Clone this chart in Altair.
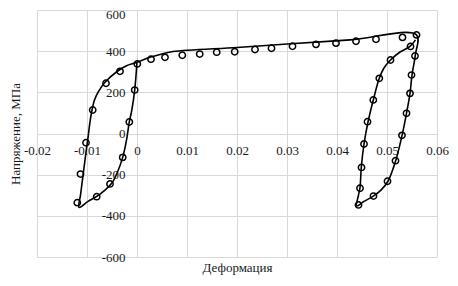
import altair as alt
import pandas as pd

# Model curve (line), in drawing order
model_x = [0.0000, -0.00046, -0.00104, -0.00154, -0.0021, -0.00286, -0.0039, -0.00506, -0.0066, -0.00774, -0.0098, -0.0116,
           -0.0113, -0.01074, -0.0102, -0.00986, -0.0094, -0.00906, -0.0085, -0.00774, -0.0064, -0.00406, -0.0022, -0.00006,
           0.0026, 0.0046, 0.0072, 0.020, 0.030, 0.0426, 0.0559,
           0.05566, 0.0550, 0.0546, 0.0539, 0.0530, 0.05174, 0.0502, 0.0488, 0.04726, 0.0454, 0.04394,
           0.0443, 0.0446, 0.04486, 0.0454, 0.0462, 0.04726, 0.04846, 0.0494, 0.0507, 0.0526, 0.0546, 0.0557]
model_y = [350, 211, 114, 56, -32, -116, -187, -242, -279, -301, -330, -359,
           -299, -193, -90, -32, 56, 106, 163, 202, 249, 300, 328, 345,
           370, 384, 398, 418, 435, 455, 479,
           381, 284, 195, 98, -10, -132, -232, -275, -304, -330, -352,
           -299, -263, -164, -51, 56, 163, 268, 318, 357, 396, 423, 455]

# Experimental points (circles)
exp_x = [0.00006, -0.00046, -0.00154, -0.00286, -0.0054, -0.00806, -0.01194, -0.0113, -0.0102, -0.00886, -0.0062, -0.0034,
         0.0028, 0.0056, 0.00906, 0.01254, 0.01594, 0.01954, 0.0236, 0.0269, 0.0311, 0.0358, 0.0398, 0.0438, 0.0478, 0.0531, 0.0559,
         0.0556, 0.0549, 0.0546, 0.0539, 0.0530, 0.0517, 0.0501, 0.0473, 0.0443,
         0.0446, 0.0449, 0.0454, 0.0461, 0.04726, 0.04846, 0.0507, 0.0547]
exp_y = [338, 211, 56, -116, -245, -307, -336, -197, -45, 114, 244, 302,
         361, 370, 380, 386, 395, 397, 408, 414, 424, 433, 439, 448, 458, 467, 479,
         377, 284, 195, 98, -9, -132, -232, -304, -347,
         -266, -165, -51, 57, 163, 268, 357, 423]

x_ticks = [-0.02, -0.01, 0, 0.01, 0.02, 0.03, 0.04, 0.05, 0.06]
y_ticks = [-600, -400, -200, 0, 200, 400, 600]

x_title = "Деформация"
y_title = "Напряжение, МПа"

model_df = pd.DataFrame({"x": model_x, "y": model_y, "i": list(range(len(model_x)))})
exp_df = pd.DataFrame({"x": exp_x, "y": exp_y})

FONT = "Liberation Serif"
TXT = "#1a1a1a"

x_enc = alt.X("x:Q",
              scale=alt.Scale(domain=[-0.02, 0.06], nice=False, zero=False),
              axis=alt.Axis(values=x_ticks, title=x_title, grid=True, ticks=False, domain=False,
                            labelPadding=-113, labelFlush=False,
                            labelFont=FONT, labelFontSize=13, labelColor=TXT,
                            titleFont=FONT, titleFontSize=13, titleColor=TXT, titleFontWeight="normal",
                            labelExpr="'' + round(datum.value*100)/100",
                            titleX=200, titleY=10, titleBaseline="middle"))
y_enc = alt.Y("y:Q",
              scale=alt.Scale(domain=[-600, 600], nice=False, zero=False),
              axis=alt.Axis(values=y_ticks, title=y_title, grid=True, ticks=False, domain=False,
                            labelPadding=-88, labelFlush=False, minExtent=0,
                            labelFont=FONT, labelFontSize=13, labelColor=TXT,
                            titleFont=FONT, titleFontSize=13, titleColor=TXT, titleFontWeight="normal",
                            labelOffset={"condition": {"test": "datum.value == 600", "value": 4}, "value": 0},
                            labelExpr="'' + datum.value",
                            titleX=-22, titleY=123.5, titleBaseline="middle"))

line = alt.Chart(model_df).mark_line(color="black", strokeWidth=1.6, interpolate="catmull-rom").encode(
    x=x_enc, y=y_enc, order="i:Q")

pts = alt.Chart(exp_df).mark_point(shape="circle", filled=False, color="black", size=40, strokeWidth=1.5, opacity=1).encode(
    x="x:Q", y="y:Q")

chart = alt.layer(line, pts).properties(
    width=400, height=247,
    autosize=alt.AutoSizeParams(type="none"),
    padding={"left": 29, "top": 2, "right": 12, "bottom": 21},
).configure_view(stroke=None).configure_axis(
    gridColor="#d9d9d9", gridWidth=1,
)

chart.save("out.html", embed_options={"renderer": "svg", "actions": False})
